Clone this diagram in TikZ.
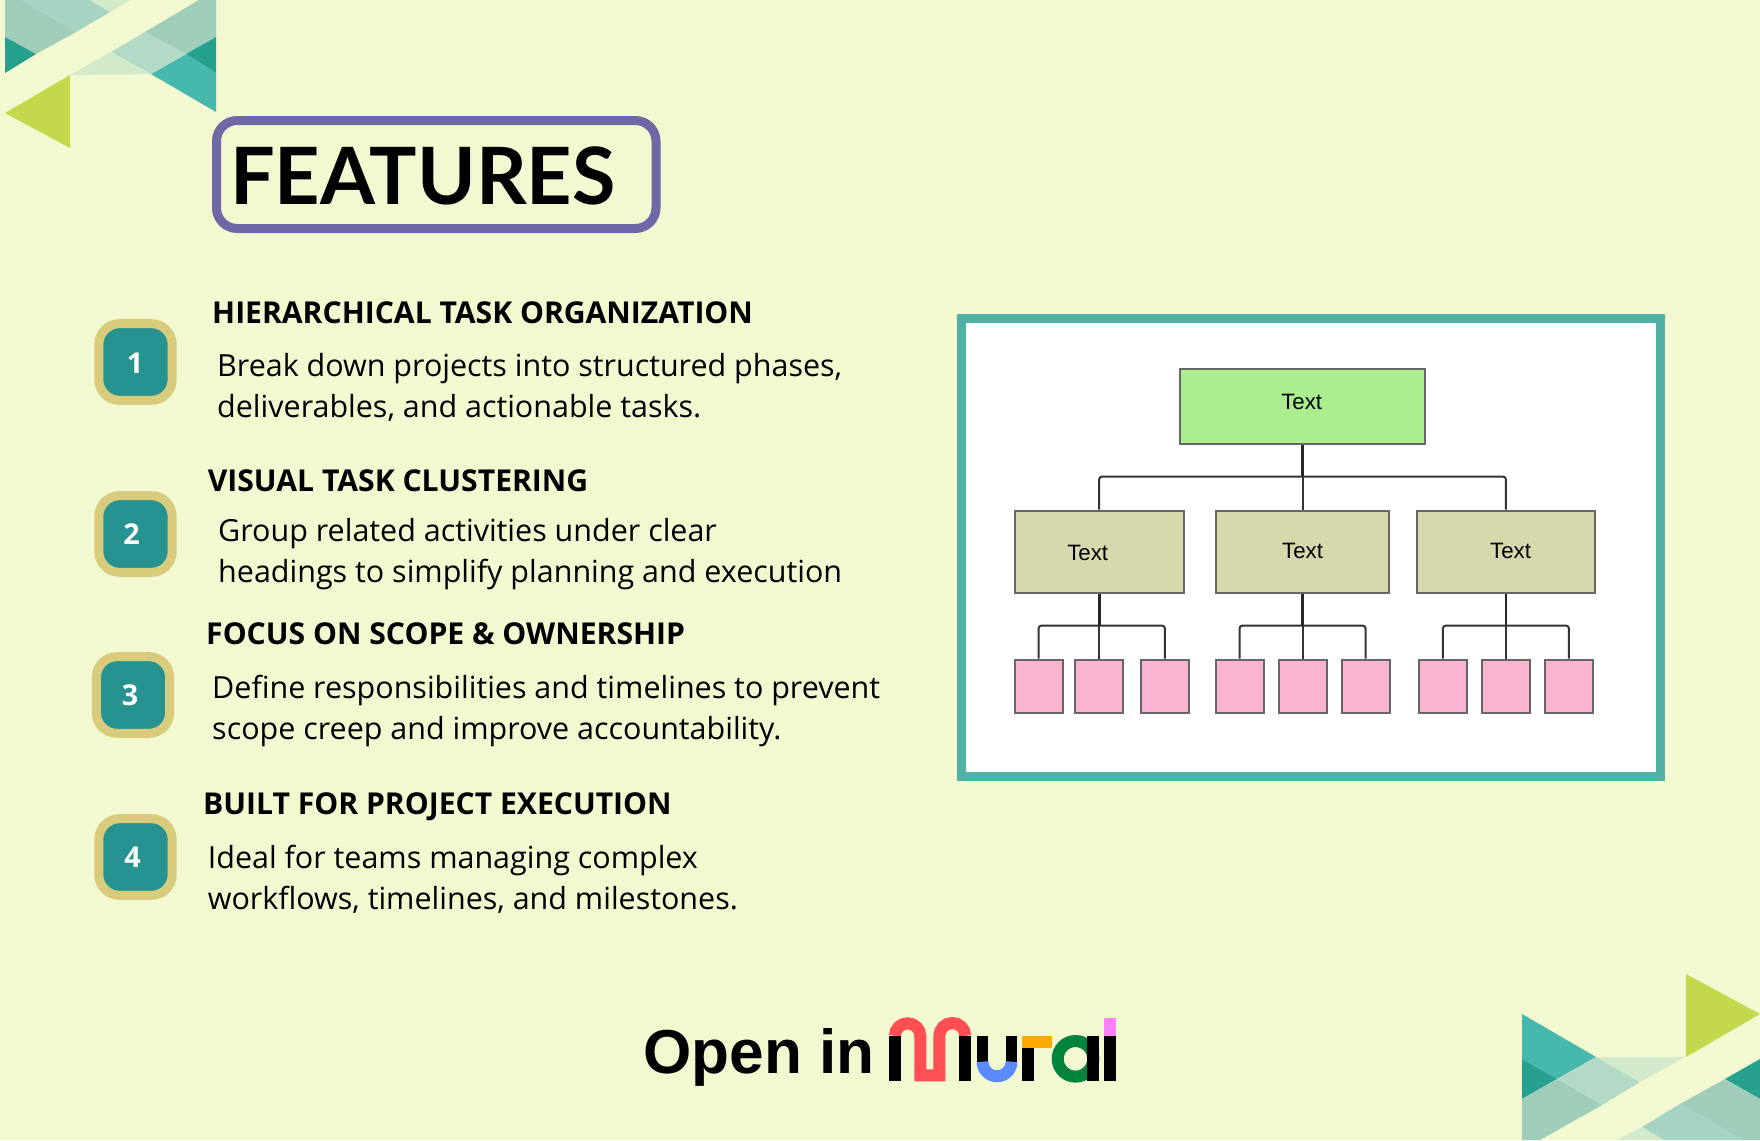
\documentclass[tikz,border=0pt]{standalone}
\usepackage{fontspec}
\setmainfont{Open Sans}
\newfontfamily\charfont{Liberation Sans}
\newfontfamily\titlefont{Lato}
\definecolor{paper}{HTML}{F2F8CF}
\definecolor{tealdark}{HTML}{26A08F}
\definecolor{tealmid}{HTML}{47B8AD}
\definecolor{tealpale}{HTML}{A0CDBA}
\definecolor{tealsoft}{HTML}{A5D3C4}
\definecolor{tealmist}{HTML}{B3DAC6}
\definecolor{tealfog}{HTML}{D3E9CC}
\definecolor{limetri}{HTML}{C5D84B}
\definecolor{titleline}{HTML}{6E69A6}
\definecolor{badgeout}{HTML}{D8CC7C}
\definecolor{badgein}{HTML}{279390}
\definecolor{frameline}{HTML}{50B1A5}
\definecolor{topfill}{HTML}{ABEE90}
\definecolor{midfill}{HTML}{D8D8AE}
\definecolor{leaffill}{HTML}{FBB3D2}
\definecolor{muralred}{HTML}{FF4F52}
\definecolor{muralblue}{HTML}{5B8CFF}
\definecolor{muralorange}{HTML}{FFAA00}
\definecolor{muralgreen}{HTML}{00843D}
\definecolor{muralpink}{HTML}{FF80FF}
\tikzset{
  badgebox/.style={draw=badgeout, fill=badgein, line width=0.27cm, rounded corners=0.62cm,
    minimum width=2.2cm, minimum height=2.3cm, inner sep=0},
  badgenum/.style={inner sep=0, text=white, font=\fontsize{24.5}{24.5}\selectfont\bfseries},
  headtext/.style={anchor=west, inner sep=0, font=\fontsize{25.7}{28}\selectfont\bfseries},
  bodytext/.style={anchor=west, inner sep=0, align=left, font=\fontsize{26}{34.8}\selectfont},
  chartbox/.style={draw=black!60, line width=0.06cm, inner sep=0},
  topbox/.style={chartbox, fill=topfill, minimum width=7.37cm, minimum height=2.26cm},
  midbox/.style={chartbox, fill=midfill, minimum height=2.46cm},
  leafbox/.style={chartbox, fill=leaffill, minimum width=1.44cm, minimum height=1.61cm},
  boxtext/.style={inner sep=0, font=\charfont\fontsize{19}{19}\selectfont},
  wire/.style={draw=black!80, line width=0.06cm, rounded corners=0.08cm},
  stemwire/.style={draw=black!85, line width=0.085cm},
  logostroke/.style={line width=0.36cm},
}
\begin{document}
\begin{tikzpicture}[x=0.03cm, y=-0.03cm]
  \useasboundingbox (0,0) rectangle (1760,1140);
  \fill[paper] (0,0) rectangle (1760,1140);

  % corner top left
  \fill[tealpale] (5,0) -- (22,0) -- (76,32) -- (36,54) -- (5,37) -- cycle;
  \fill[tealsoft] (22,0) -- (90,0) -- (110,12) -- (76,32) -- cycle;
  \fill[tealfog] (90,0) -- (130,0) -- (110,12) -- cycle;
  \fill[tealdark] (5,37) -- (36,54) -- (5,73) -- cycle;
  \fill[tealpale] (199,0) -- (216,0) -- (216,37) -- (186,54) -- (145,32) -- cycle;
  \fill[tealdark] (216,37) -- (216,73) -- (186,54) -- cycle;
  \fill[tealmid] (151,74) -- (186,54) -- (216,73) -- (216,112) -- cycle;
  \fill[tealmist] (111,52) -- (145,32) -- (186,54) -- (151,74) -- cycle;
  \fill[tealfog] (70,75) -- (111,52) -- (151,74) -- cycle;
  \fill[limetri] (5,113) -- (70,75) -- (70,148) -- cycle;

  % corner bottom right
  \fill[tealmid] (1522,1014) -- (1596,1057) -- (1557,1079) -- (1522,1059) -- cycle;
  \fill[tealdark] (1522,1059) -- (1557,1079) -- (1522,1099) -- cycle;
  \fill[tealmist] (1557,1079) -- (1596,1057) -- (1640,1082) -- (1602,1105) -- cycle;
  \fill[tealfog] (1596,1057) -- (1685,1057) -- (1640,1082) -- cycle;
  \fill[tealpale] (1522,1099) -- (1557,1079) -- (1602,1105) -- (1540,1140) -- (1522,1140) -- cycle;
  \fill[limetri] (1686,974) -- (1760,1014) -- (1686,1057) -- cycle;
  \fill[tealdark] (1760,1059) -- (1725,1079) -- (1760,1099) -- cycle;
  \fill[tealpale] (1725,1079) -- (1760,1099) -- (1760,1140) -- (1743,1140) -- (1680,1104) -- cycle;
  \fill[tealsoft] (1680,1104) -- (1743,1140) -- (1664,1140) -- (1642,1127) -- cycle;
  \fill[tealfog] (1617,1140) -- (1642,1127) -- (1664,1140) -- cycle;

  % title
  \draw[titleline, line width=0.27cm, rounded corners=0.62cm] (216.5,120.5) rectangle (656,228.5);
  \node[anchor=base west, inner sep=0, font=\titlefont\fontsize{67.5}{67.5}\selectfont\bfseries] (title) at (230,204) {FEATURES};

  % badges
  \node[badgebox] (badgeone) at (135.5,362) {};
  \node[badgebox] (badgetwo) at (135.5,534) {};
  \node[badgebox] (badgethree) at (133,695) {};
  \node[badgebox] (badgefour) at (135.5,857) {};
  \node[badgenum] (numone) at (135,362.8) {1};
  \node[badgenum] (numtwo) at (131.5,534.5) {2};
  \node[badgenum] (numthree) at (130,695.5) {3};
  \node[badgenum] (numfour) at (132.5,857.5) {4};

  % feature texts
  \node[headtext] (headone) at (212,313) {HIERARCHICAL TASK ORGANIZATION};
  \node[bodytext] (bodyone) at (217,387.7) {Break down projects into structured phases,\\deliverables, and actionable tasks.};
  \node[headtext] (headtwo) at (207.6,481) {VISUAL TASK CLUSTERING};
  \node[bodytext] (bodytwo) at (218,553.7) {Group related activities under clear\\headings to simplify planning and execution};
  \node[headtext] (headthree) at (206,634) {FOCUS ON SCOPE \& OWNERSHIP};
  \node[bodytext] (bodythree) at (212,710.7) {Define responsibilities and timelines to prevent\\scope creep and improve accountability.};
  \node[headtext] (headfour) at (203,806.5) {BUILT FOR PROJECT EXECUTION};
  \node[bodytext] (bodyfour) at (207.6,879) {Ideal for teams managing complex\\workflows, timelines, and milestones.};

  % chart frame
  \draw[frameline, fill=white, line width=0.26cm] (961.5,318.2) rectangle (1660.5,776.8);

  % chart boxes
  \node[topbox] (top) at (1302.6,406.4) {};
  \node[midbox, minimum width=5.07cm] (mida) at (1099.2,551.7) {};
  \node[midbox, minimum width=5.21cm] (midb) at (1302.6,551.7) {};
  \node[midbox, minimum width=5.33cm] (midc) at (1505.9,551.7) {};
  \node[leafbox] (leafa) at (1038.6,686.4) {};
  \node[leafbox] (leafb) at (1099.2,686.4) {};
  \node[leafbox] (leafc) at (1164.9,686.4) {};
  \node[leafbox] (leafd) at (1239.5,686.4) {};
  \node[leafbox] (leafe) at (1302.6,686.4) {};
  \node[leafbox] (leaff) at (1365.5,686.4) {};
  \node[leafbox] (leafg) at (1442.9,686.4) {};
  \node[leafbox] (leafh) at (1505.9,686.4) {};
  \node[leafbox] (leafi) at (1568.9,686.4) {};
  \node[boxtext] (texttop) at (1301.7,402) {Text};
  \node[boxtext] (texta) at (1087.7,553.3) {Text};
  \node[boxtext] (textb) at (1302.6,551) {Text};
  \node[boxtext] (textc) at (1510.6,551) {Text};

  % chart wires
  \coordinate (bustop) at (1302.6,476.7);
  \coordinate (busa) at (1099.2,625.7);
  \coordinate (busb) at (1302.6,625.7);
  \coordinate (busc) at (1505.9,625.7);
  \draw[stemwire] (top.south) -- (bustop);
  \draw[wire] (bustop) -- (midb.north);
  \draw[wire] (mida.north) |- (bustop) -| (midc.north);
  \draw[stemwire] (mida.south) -- (busa);
  \draw[wire] (busa) -- (leafb.north);
  \draw[wire] (leafa.north) |- (busa) -| (leafc.north);
  \draw[stemwire] (midb.south) -- (busb);
  \draw[wire] (busb) -- (leafe.north);
  \draw[wire] (leafd.north) |- (busb) -| (leaff.north);
  \draw[stemwire] (midc.south) -- (busc);
  \draw[wire] (busc) -- (leafh.north);
  \draw[wire] (leafg.north) |- (busc) -| (leafi.north);

  % open in
  \node[anchor=base west, inner sep=0, font=\charfont\fontsize{53}{53}\selectfont\bfseries] (openin) at (643,1073) {Open in};

  % logo
  \draw[muralred, logostroke] (894.9,1036) arc[start angle=180, end angle=360, radius=12.7]
    -- (920.3,1075.3) -- (939.3,1075.3) -- (939.3,1036) arc[start angle=180, end angle=360, radius=13];
  \fill (889,1036) rectangle (900.8,1081.3);
  \fill (959.3,1036) rectangle (971.3,1081.3);
  \fill (976.7,1036) rectangle (988.3,1061.7);
  \fill (1005.7,1036) rectangle (1017.3,1061.7);
  \draw[muralblue, logostroke] (982.5,1061.7) arc[start angle=180, end angle=0, radius=14.5];
  \fill (1022.3,1047.7) rectangle (1034,1081.3);
  \fill[muralorange] (1022.3,1036) rectangle (1051.7,1047.7);
  \draw[muralgreen, logostroke] (1075.5,1058.8) circle[radius=17.8];
  \fill (1087.3,1036) rectangle (1099.3,1081.3);
  \fill[muralpink] (1104,1018) rectangle (1116,1036);
  \fill (1104,1036) rectangle (1116,1081.3);
\end{tikzpicture}
\end{document}
